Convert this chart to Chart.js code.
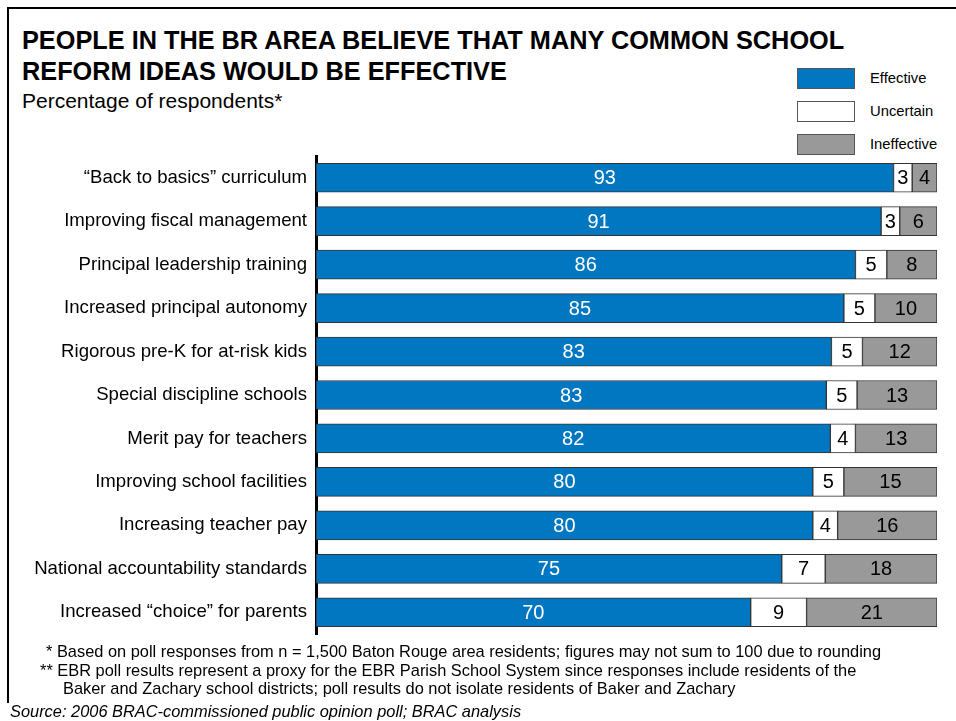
<!DOCTYPE html>
<html>
<head>
<meta charset="utf-8">
<script src="https://cdn.jsdelivr.net/npm/chart.js@4.4.1/dist/chart.umd.min.js"></script>
<style>
  body { margin: 0; background: #fff; font-family: "Liberation Sans", Arial, sans-serif; }
  #wrap { position: relative; width: 956px; height: 721px; overflow: hidden; }
  #frame { position: absolute; left: 7px; top: 7px; width: 960px; height: 694px; border-left: 2px solid #000; border-top: 2px solid #000; }
  #chart { position: absolute; left: 0; top: 0; }
  .t { position: absolute; white-space: nowrap; color: #000; line-height: 1.15; }
  .title { left: 22px; font-weight: bold; font-size: 25.3px; }
  .lg { position: absolute; left: 797px; width: 56px; height: 19px; border: 1px solid #555; }
  .lgt { position: absolute; left: 870px; font-size: 14.8px; }
  .note { font-size: 16.4px; }
</style>
</head>
<body>
<div id="wrap">
  <div id="frame"></div>
  <div class="t title" style="top:26px">PEOPLE IN THE BR AREA BELIEVE THAT MANY COMMON SCHOOL</div>
  <div class="t title" style="top:57px">REFORM IDEAS WOULD BE EFFECTIVE</div>
  <div class="t" style="left:22px;top:89px;font-size:21px">Percentage of respondents*</div>
  <div class="lg" style="top:68px;background:#0077c0"></div>
  <div class="t lgt" style="top:70px">Effective</div>
  <div class="lg" style="top:101px;background:#fff"></div>
  <div class="t lgt" style="top:103px">Uncertain</div>
  <div class="lg" style="top:134px;background:#999"></div>
  <div class="t lgt" style="top:136px">Ineffective</div>
  <canvas id="chart" width="956" height="721"></canvas>
  <div class="t note" style="left:46px;top:642px">* Based on poll responses from n = 1,500 Baton Rouge area residents; figures may not sum to 100 due to rounding</div>
  <div class="t note" style="left:40px;top:661px">** EBR poll results represent a proxy for the EBR Parish School System since responses include residents of the</div>
  <div class="t note" style="left:63px;top:679px">Baker and Zachary school districts; poll results do not isolate residents of Baker and Zachary</div>
  <div class="t" style="left:10px;top:702px;font-size:16.4px;font-style:italic">Source: 2006 BRAC-commissioned public opinion poll; BRAC analysis</div>
</div>
<script>
const categories = [
    '\u201cBack to basics\u201d curriculum',
    'Improving fiscal management',
    'Principal leadership training',
    'Increased principal autonomy',
    'Rigorous pre-K for at-risk kids',
    'Special discipline schools',
    'Merit pay for teachers',
    'Improving school facilities',
    'Increasing teacher pay',
    'National accountability standards',
    'Increased \u201cchoice\u201d for parents'
];
const effective = [93, 91, 86, 85, 83, 83, 82, 80, 80, 75, 70];
const uncertain = [3, 3, 5, 5, 5, 5, 4, 5, 4, 7, 9];
const ineffective = [4, 6, 8, 10, 12, 13, 13, 15, 16, 18, 21];

// bars in the original all span the full width, so scale each row to its total
const totals = categories.map((c, i) => effective[i] + uncertain[i] + ineffective[i]);
const norm = (arr) => arr.map((v, i) => v / totals[i] * 100);
const raw = [effective, uncertain, ineffective];

const valueLabels = {
    id: 'valueLabels',
    afterDatasetsDraw(chart) {
        const ctx = chart.ctx;
        ctx.save();
        ctx.font = '20px "Liberation Sans", Arial, sans-serif';
        ctx.textAlign = 'center';
        ctx.textBaseline = 'middle';
        chart.data.datasets.forEach((ds, di) => {
            chart.getDatasetMeta(di).data.forEach((bar, i) => {
                const cx = (bar.x + bar.base) / 2;
                ctx.fillStyle = di === 0 ? '#fff' : '#000';
                ctx.fillText(String(raw[di][i]), cx, bar.y + 1);
            });
        });
        ctx.restore();
    }
};

new Chart(document.getElementById('chart'), {
    type: 'bar',
    data: {
        labels: categories,
        datasets: [
            { label: 'Effective', data: norm(effective), backgroundColor: '#0077c0' },
            { label: 'Uncertain', data: norm(uncertain), backgroundColor: '#ffffff' },
            { label: 'Ineffective', data: norm(ineffective), backgroundColor: '#999999' }
        ].map(d => Object.assign(d, { borderColor: '#333', borderWidth: 1, borderSkipped: false, barThickness: 29 }))
    },
    options: {
        indexAxis: 'y',
        responsive: false,
        animation: false,
        layout: { padding: { top: 156, bottom: 87, right: 19, left: 0 } },
        plugins: { legend: { display: false }, tooltip: { enabled: false } },
        scales: {
            x: { stacked: true, min: 0, max: 100, display: false },
            y: {
                stacked: true,
                grid: { display: false },
                border: { display: true, color: '#000', width: 3 },
                ticks: { color: '#000', padding: 1, font: { size: 18.6, family: '"Liberation Sans", Arial, sans-serif' } },
                afterFit: (scale) => { scale.width = 316; }
            }
        }
    },
    plugins: [valueLabels]
});
</script>
</body>
</html>
